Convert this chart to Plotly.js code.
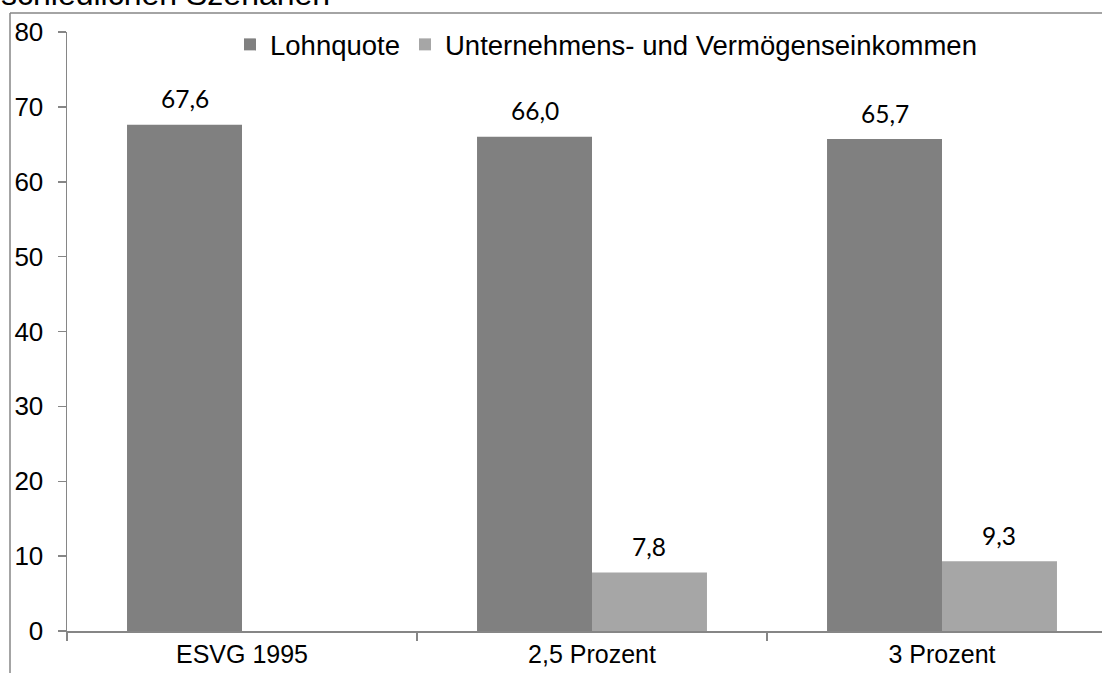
<!DOCTYPE html>
<html>
<head>
<meta charset="utf-8">
<script src="https://cdn.plot.ly/plotly-3.0.1.min.js"></script>
<style>
html,body{margin:0;padding:0;background:#fff;}
#chart{width:1102px;height:673px;}
</style>
</head>
<body>
<div id="chart"></div>
<script>
var categories = ["ESVG 1995", "2,5 Prozent", "3 Prozent"];
var lohnquote = [67.6, 66.0, 65.7];
var unternehmen = [null, 7.8, 9.3];
var seriesNames = ["Lohnquote", "Unternehmens- und Vermögenseinkommen"];
var yTicks = [0, 10, 20, 30, 40, 50, 60, 70, 80];
var titleText = "schiedlichen Szenarien";

var W = 1102, H = 673;
var L = 67, R = 0, T = 32, B = 42;
var pw = W - L - R, ph = H - T - B;
function px2x(p){ return (p - L) / pw; }
function py2y(p){ return (H - B - p) / ph; }

var bargap = 0.343;
var half = (1 - bargap) / 4;
var axisCol = "#868686";

function fmt(v){ return v.toFixed(1).replace('.', ','); }

var traces = [
  {type:'bar', name:seriesNames[0], x:categories, y:lohnquote, marker:{color:'#808080'}, hoverinfo:'none'},
  {type:'bar', name:seriesNames[1], x:categories, y:unternehmen, marker:{color:'#A6A6A6'}, hoverinfo:'none'}
];

var annotations = [];
[lohnquote, unternehmen].forEach(function(arr, si){
  arr.forEach(function(v, i){
    if (v === null) return;
    annotations.push({
      x: i + (si === 0 ? -half : half), y: v, xref:'x', yref:'y',
      text: fmt(v), showarrow:false, yanchor:'middle', yshift:26,
      font:{family:'Lato, "Open Sans", sans-serif', size:24.5, color:'#000'}
    });
  });
});
annotations.push({
  xref:'paper', yref:'paper', x:px2x(-1), y:py2y(-6), xanchor:'left', yanchor:'middle',
  text:titleText, showarrow:false,
  font:{family:'"Liberation Sans", Arial, sans-serif', size:32, color:'#000'}
});

var layout = {
  width:W, height:H,
  margin:{l:L, r:R, t:T, b:B, pad:0},
  paper_bgcolor:'#fff', plot_bgcolor:'#fff',
  font:{family:'"Liberation Sans", Arial, sans-serif', size:24, color:'#000'},
  barmode:'group', bargap:bargap, bargroupgap:0,
  showlegend:true,
  legend:{orientation:'h', x:px2x(230), y:py2y(20), xanchor:'left', yanchor:'top',
    font:{size:27.5, color:'#000'}, bgcolor:'rgba(0,0,0,0)', itemwidth:30, traceorder:'normal'},
  xaxis:{type:'category', range:[-0.5, -0.5 + pw/350], showline:true, linecolor:axisCol, linewidth:1.5,
    ticks:'outside', tickson:'boundaries', ticklen:8, tickcolor:axisCol, tickwidth:1.5,
    showgrid:false, zeroline:false, tickfont:{size:25}, fixedrange:true},
  yaxis:{range:[0,80], tickvals:yTicks, showline:true, linecolor:axisCol, linewidth:1.5,
    ticks:'outside', ticklen:8, tickcolor:axisCol, tickwidth:1.5,
    showgrid:false, zeroline:false, tickfont:{size:26}, ticklabelstandoff:9, fixedrange:true},
  annotations:annotations,
  shapes:[
    {type:'line', xref:'paper', yref:'paper', x0:px2x(10), x1:px2x(10), y0:py2y(H+5), y1:py2y(13), line:{color:axisCol, width:1.5}},
    {type:'line', xref:'paper', yref:'paper', x0:px2x(10), x1:px2x(W+5), y0:py2y(13), y1:py2y(13), line:{color:axisCol, width:1.5}}
  ]
};

Plotly.newPlot('chart', traces, layout, {displayModeBar:false, staticPlot:true});
</script>
</body>
</html>
